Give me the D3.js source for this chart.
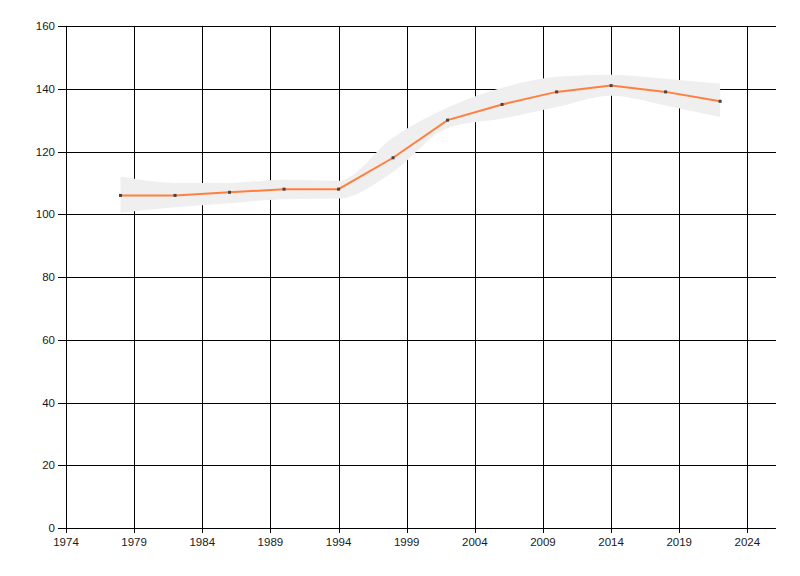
<!DOCTYPE html>
<html lang="en">
<head>
  <meta charset="UTF-8" />
  <title>Trend with band</title>
  <script src="https://d3js.org/d3.v7.min.js"></script>
  <style>
    body {
      margin: 0;
      background: #ffffff;
    }
    text {
      font-family: 'Liberation Sans', Arial, sans-serif;
      font-size: 11.5px;
      fill: #1a1a1a;
    }
  </style>
</head>
<body>
  <div id="chart"></div>

  <script>
    // values
    const years = [1978, 1982, 1986, 1990, 1994, 1998, 2002, 2006, 2010, 2014, 2018, 2022];
    const values = [106, 106, 107, 108, 108, 118, 130, 135, 139, 141, 139, 136];
    const upper = [112, 110, 110, 111, 110.7, 124.5, 134, 140.3, 143.8, 144.5, 143.2, 141.6];
    const lower = [100.5, 102.2, 103.5, 104.8, 105, 113.5, 127.5, 130.5, 134.2, 137.8, 134.7, 131];
    const xTicks = [1974, 1979, 1984, 1989, 1994, 1999, 2004, 2009, 2014, 2019, 2024];
    const yTicks = [0, 20, 40, 60, 80, 100, 120, 140, 160];

    const width = 800, height = 576;
    const margin = { top: 26, right: 24, bottom: 48, left: 66 };

    const svg = d3.select("#chart").append("svg")
      .attr("width", width)
      .attr("height", height);

    const x = d3.scaleLinear()
      .domain([1974, 2026.1])
      .range([margin.left, width - margin.right]);

    const y = d3.scaleLinear()
      .domain([0, 160])
      .range([height - margin.bottom, margin.top]);

    const rows = years.map((yr, i) => ({ yr, v: values[i], hi: upper[i], lo: lower[i] }));

    // grid lines
    const grid = svg.append("g").attr("stroke", "#000").attr("stroke-width", 1);

    grid.selectAll(".hg")
      .data(yTicks)
      .enter().append("line")
      .attr("x1", margin.left - 8)
      .attr("x2", width - margin.right)
      .attr("y1", d => Math.round(y(d)) + 0.5)
      .attr("y2", d => Math.round(y(d)) + 0.5);

    grid.selectAll(".vg")
      .data(xTicks)
      .enter().append("line")
      .attr("x1", d => Math.round(x(d)) + 0.5)
      .attr("x2", d => Math.round(x(d)) + 0.5)
      .attr("y1", margin.top)
      .attr("y2", height - margin.bottom + 5);

    // uncertainty band, sits over the grid like the original
    const band = d3.area()
      .x(d => x(d.yr))
      .y0(d => y(d.lo))
      .y1(d => y(d.hi))
      .curve(d3.curveMonotoneX);

    svg.append("path")
      .datum(rows)
      .attr("d", band)
      .attr("fill", "#efefef");

    // tick labels
    svg.selectAll(".yl")
      .data(yTicks)
      .enter().append("text")
      .attr("x", margin.left - 11)
      .attr("y", d => y(d))
      .attr("dy", "0.35em")
      .attr("text-anchor", "end")
      .text(d => d);

    svg.selectAll(".xl")
      .data(xTicks)
      .enter().append("text")
      .attr("x", d => x(d))
      .attr("y", height - margin.bottom + 18)
      .attr("text-anchor", "middle")
      .text(d => d);

    // the series line
    const line = d3.line()
      .x(d => x(d.yr))
      .y(d => y(d.v));

    svg.append("path")
      .datum(rows)
      .attr("d", line)
      .attr("fill", "none")
      .attr("stroke", "#ff7f3f")
      .attr("stroke-width", 2);

    svg.selectAll(".pt")
      .data(rows)
      .enter().append("rect")
      .attr("x", d => x(d.yr) - 1.5)
      .attr("y", d => y(d.v) - 1.5)
      .attr("width", 3)
      .attr("height", 3)
      .attr("fill", "#444");
  </script>
</body>
</html>
